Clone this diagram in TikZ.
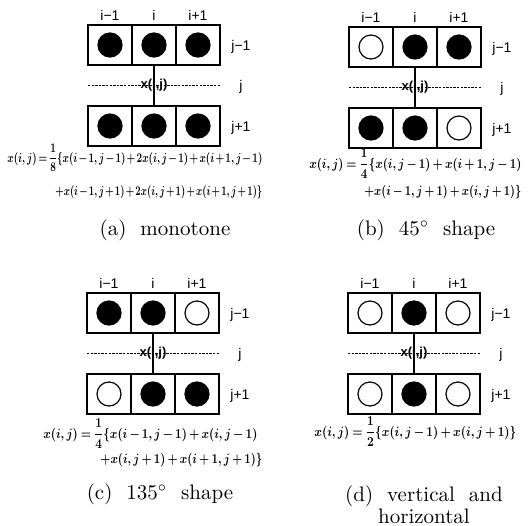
\documentclass[tikz,border=0pt]{standalone}
\usepackage{amsmath}
\usepackage{graphicx}
\usepackage{fontspec}
\newfontfamily\labelfont{Liberation Sans}
\usetikzlibrary{positioning,calc}

\begin{document}
\begin{tikzpicture}[x=0.5pt, y=-0.5pt,
  cell/.style={rectangle, draw, line width=0.6pt, minimum width=22pt,
               minimum height=20pt, inner sep=0pt, outer sep=0pt},
  pix/.style={circle, draw, line width=0.6pt, minimum size=12pt, inner sep=0pt},
  idx/.style={font=\labelfont\fontsize{7}{8}\selectfont, inner sep=0.5pt,
              text height=5pt, text depth=0pt},
  centre/.style={font=\labelfont\bfseries\fontsize{6.5}{7}\selectfont, inner sep=0pt},
  rowline/.style={line width=0.4pt, dash pattern=on 1.2pt off 0.6pt},
  link/.style={line width=0.6pt},
  formula/.style={anchor=base west, inner sep=0pt, font=\fontsize{10}{12}\selectfont},
  caption/.style={font=\fontsize{10.5}{9.5}\selectfont, align=center, inner sep=0pt}
]
  \useasboundingbox (0,0) rectangle (532,526);

  % ── PIXEL WINDOWS (a)-(d) ──
  \foreach \p/\px/\py/\ta/\tb/\tc/\ba/\bb/\bc in {a/88/25/black/black/black/black/black/black,
      b/349/27/white/black/black/black/black/white,
      c/87/293/black/black/white/white/black/black,
      d/348/293/white/black/white/white/black/white}{
    % row j-1
    \node[cell, anchor=north west] (\p-t1) at (\px,\py) {};
    \node[cell, right=0pt of \p-t1] (\p-t2) {};
    \node[cell, right=0pt of \p-t2] (\p-t3) {};
    % row j+1
    \node[cell, below=20.5pt of \p-t1] (\p-b1) {};
    \node[cell, right=0pt of \p-b1] (\p-b2) {};
    \node[cell, right=0pt of \p-b2] (\p-b3) {};
    % pixels
    \node[pix, fill=\ta] (\p-pt1) at (\p-t1) {};
    \node[pix, fill=\tb] (\p-pt2) at (\p-t2) {};
    \node[pix, fill=\tc] (\p-pt3) at (\p-t3) {};
    \node[pix, fill=\ba] (\p-pb1) at (\p-b1) {};
    \node[pix, fill=\bb] (\p-pb2) at (\p-b2) {};
    \node[pix, fill=\bc] (\p-pb3) at (\p-b3) {};
    % row j and x(i,j)
    \coordinate (\p-jl) at ($(\p-t1.south west)!0.5!(\p-b1.north west)$);
    \coordinate (\p-jr) at ($(\p-t3.south east)!0.5!(\p-b3.north east)$);
    \draw[rowline] (\p-jl) -- (\p-jr);
    \draw[link] (\p-t2.south) -- (\p-b2.north);
    \node[centre] (\p-x) at ($(\p-jl)!0.5!(\p-jr)$) {x(i,j)};
    % indices
    \node[idx, above=1.5pt of \p-t1] (\p-i1) {i−1};
    \node[idx, above=1.5pt of \p-t2] (\p-i2) {i};
    \node[idx, above=1.5pt of \p-t3] (\p-i3) {i+1};
    \node[idx, right=5pt of \p-t3] (\p-j1) {j−1};
    \node[idx, right=5pt of \p-b3] (\p-j3) {j+1};
    \node[idx] (\p-j2) at (\p-j1 |- \p-x) {j};
  }

  % ── FORMULAS ──
  \node[formula] (a-f1) at (7,162)
    {\resizebox{127.5pt}{0.66\height}{\boldmath$\medmuskip=2mu\thickmuskip=3mu x(i,j)=\dfrac{1}{8}\{x(i-1,j-1)+2x(i,j-1)+x(i+1,j-1)$}};
  \node[formula] (a-f2) at (55,195)
    {\resizebox{103.5pt}{0.66\height}{\boldmath$\medmuskip=2mu\thickmuskip=3mu +x(i-1,j+1)+2x(i,j+1)+x(i+1,j+1)\}$}};

  \node[formula] (b-f1) at (309,168)
    {\resizebox{106pt}{0.68\height}{\boldmath$\medmuskip=3mu\thickmuskip=4mu x(i,j)=\dfrac{1}{4}\{x(i,j-1)+x(i+1,j-1)$}};
  \node[formula] (b-f2) at (364,195)
    {\resizebox{78.5pt}{0.68\height}{\boldmath$\medmuskip=3mu\thickmuskip=4mu +x(i-1,j+1)+x(i,j+1)\}$}};

  \node[formula] (c-f1) at (43,438)
    {\resizebox{107pt}{0.68\height}{\boldmath$\medmuskip=3mu\thickmuskip=4mu x(i,j)=\dfrac{1}{4}\{x(i-1,j-1)+x(i,j-1)$}};
  \node[formula] (c-f2) at (100,463)
    {\resizebox{81pt}{0.68\height}{\boldmath$\medmuskip=3mu\thickmuskip=4mu +x(i,j+1)+x(i+1,j+1)\}$}};

  \node[formula] (d-f1) at (314,436)
    {\resizebox{101pt}{0.68\height}{\boldmath$\medmuskip=3mu\thickmuskip=4mu x(i,j)=\dfrac{1}{2}\{x(i,j-1)+x(i,j+1)\}$}};

  % ── CAPTIONS ──
  \node[caption] (a-cap) at (165,230) {(a)~~monotone};
  \node[caption] (b-cap) at (426,230) {(b)~~45$^{\circ}$~~shape};
  \node[caption] (c-cap) at (160,494) {(c)~~135$^{\circ}$~~shape};
  \node[caption] (d-cap) at (424,505) {(d)~~vertical~~and\\horizontal};
\end{tikzpicture}
\end{document}
